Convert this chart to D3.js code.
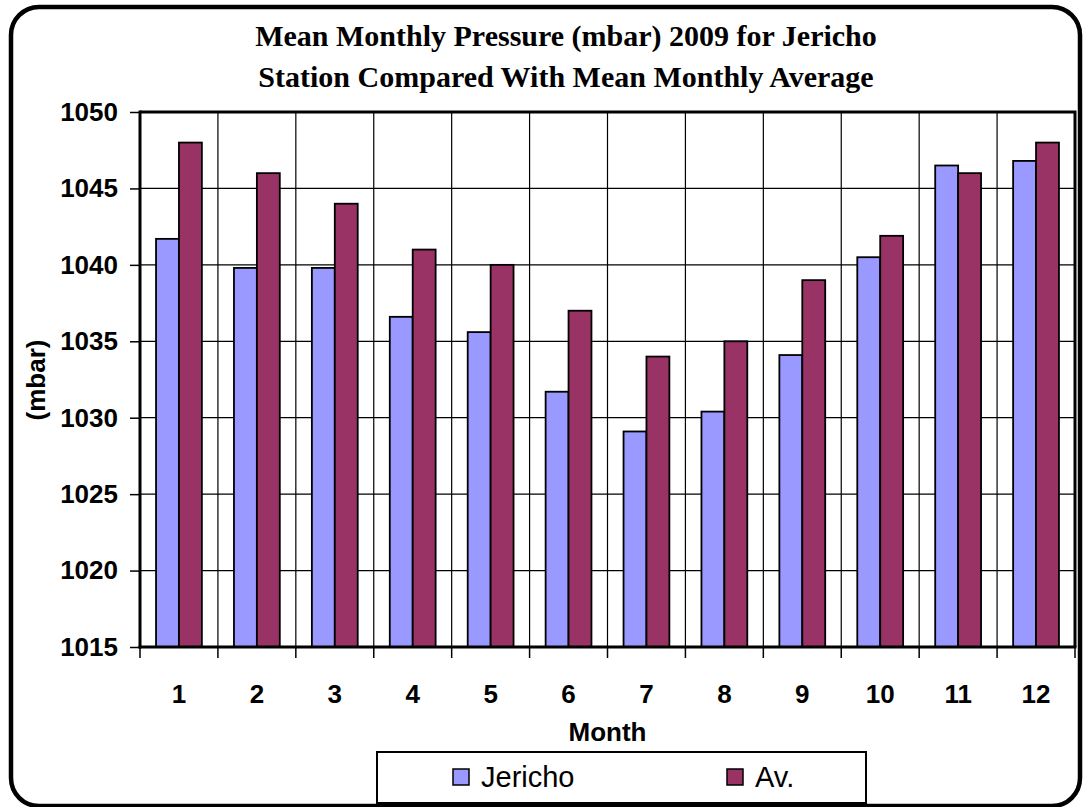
<!DOCTYPE html>
<html>
<head>
<meta charset="utf-8">
<script src="https://cdn.jsdelivr.net/npm/d3@7"></script>
<style>
  body { margin: 0; background: #fff; }
  svg { display: block; }
</style>
</head>
<body>
<div id="chart"></div>
<script>
// données
var months = ["1", "2", "3", "4", "5", "6", "7", "8", "9", "10", "11", "12"];
var seriesNames = ["Jericho", "Av."];
var jericho = [1041.7, 1039.8, 1039.8, 1036.6, 1035.6, 1031.7, 1029.1, 1030.4, 1034.1, 1040.5, 1046.5, 1046.8];
var average = [1048, 1046, 1044, 1041, 1040, 1037, 1034, 1035, 1039, 1041.9, 1046, 1048];
var yTicks = [1015, 1020, 1025, 1030, 1035, 1040, 1045, 1050];
var titleLines = ["Mean Monthly Pressure (mbar) 2009 for Jericho", "Station Compared With Mean Monthly Average"];

var colors = { "Jericho": "#9999ff", "Av.": "#993366" };

var width = 1083,
    height = 807;

var plot = { left: 140, right: 1075, top: 112, bottom: 647 };

var svg = d3.select("#chart")
    .append("svg")
    .attr("width", width)
    .attr("height", height);

// cadre arrondi
svg.append("rect")
    .attr("x", 11).attr("y", 7)
    .attr("width", 1069).attr("height", 799)
    .attr("rx", 28).attr("ry", 28)
    .attr("fill", "#fff")
    .attr("stroke", "#000")
    .attr("stroke-width", 4.5);

// titre
svg.append("g").selectAll("text")
    .data(titleLines)
    .join("text")
    .attr("x", 566)
    .attr("y", function (d, i) { return 46 + i * 41; })
    .attr("text-anchor", "middle")
    .style("font-family", "'Liberation Serif', 'Times New Roman', serif")
    .style("font-weight", "bold")
    .style("font-size", "30px")
    .style("letter-spacing", "0px")
    .text(function (d) { return d; });

// échelles
var x0 = d3.scaleBand()
    .domain(months)
    .range([plot.left, plot.right])
    .padding(0);

var x1 = d3.scaleBand()
    .domain(seriesNames)
    .range([0, x0.bandwidth()])
    .paddingInner(0)
    .paddingOuter(0.7);

var y = d3.scaleLinear()
    .domain([1015, 1050])
    .range([plot.bottom, plot.top]);

var g = svg.append("g");

// quadrillage horizontal
g.selectAll("line.hgrid")
    .data(yTicks.slice(1, -1))
    .join("line")
    .attr("class", "hgrid")
    .attr("x1", plot.left).attr("x2", plot.right)
    .attr("y1", function (d) { return y(d); })
    .attr("y2", function (d) { return y(d); })
    .attr("stroke", "#000")
    .attr("stroke-width", 1.2);

// quadrillage vertical
g.selectAll("line.vgrid")
    .data(months.slice(1))
    .join("line")
    .attr("class", "vgrid")
    .attr("x1", function (d) { return x0(d); })
    .attr("x2", function (d) { return x0(d); })
    .attr("y1", plot.top).attr("y2", plot.bottom)
    .attr("stroke", "#000")
    .attr("stroke-width", 1.2);

// barres
var rows = months.map(function (m, i) {
    return { month: m, values: [
        { name: "Jericho", value: jericho[i] },
        { name: "Av.", value: average[i] }
    ] };
});

g.selectAll("g.month")
    .data(rows)
    .join("g")
    .attr("class", "month")
    .attr("transform", function (d) { return "translate(" + x0(d.month) + ",0)"; })
    .selectAll("rect")
    .data(function (d) { return d.values; })
    .join("rect")
    .attr("x", function (d) { return x1(d.name); })
    .attr("width", x1.bandwidth())
    .attr("y", function (d) { return y(d.value); })
    .attr("height", function (d) { return y(1015) - y(d.value); })
    .attr("fill", function (d) { return colors[d.name]; })
    .attr("stroke", "#000")
    .attr("stroke-width", 1.8);

// bord du graphique (haut et droite)
g.append("path")
    .attr("d", "M" + plot.left + "," + plot.top + "H" + plot.right + "V" + plot.bottom)
    .attr("fill", "none")
    .attr("stroke", "#000")
    .attr("stroke-width", 3);

// axe Y
var yAxis = svg.append("g")
    .attr("transform", "translate(" + plot.left + ",0)")
    .call(d3.axisLeft(y).tickValues(yTicks).tickSize(10).tickPadding(12).tickFormat(d3.format("d")));
yAxis.select(".domain").remove();
yAxis.selectAll(".tick line").attr("stroke", "#000").attr("stroke-width", 1.5);
yAxis.selectAll(".tick text")
    .style("font-family", "'Liberation Sans', Arial, sans-serif")
    .style("font-weight", "bold")
    .style("font-size", "26px")
    .attr("fill", "#000");
svg.append("line")
    .attr("x1", plot.left).attr("x2", plot.left)
    .attr("y1", plot.top - 1.5).attr("y2", plot.bottom + 1.5)
    .attr("stroke", "#000").attr("stroke-width", 3);

// axe X
var xAxis = svg.append("g")
    .attr("transform", "translate(0," + plot.bottom + ")");
xAxis.selectAll("line")
    .data(months.concat(["end"]))
    .join("line")
    .attr("x1", function (d) { return d === "end" ? plot.right : x0(d); })
    .attr("x2", function (d) { return d === "end" ? plot.right : x0(d); })
    .attr("y1", 0).attr("y2", 11)
    .attr("stroke", "#000").attr("stroke-width", 1.5);
xAxis.selectAll("text")
    .data(months)
    .join("text")
    .attr("x", function (d) { return x0(d) + x0.bandwidth() / 2; })
    .attr("y", 56)
    .attr("text-anchor", "middle")
    .style("font-family", "'Liberation Sans', Arial, sans-serif")
    .style("font-weight", "bold")
    .style("font-size", "26px")
    .text(function (d) { return d; });
xAxis.append("line")
    .attr("x1", plot.left - 1.5).attr("x2", plot.right + 1.5)
    .attr("y1", 0).attr("y2", 0)
    .attr("stroke", "#000").attr("stroke-width", 3);

// titres des axes
svg.append("text")
    .attr("x", (plot.left + plot.right) / 2)
    .attr("y", 741)
    .attr("text-anchor", "middle")
    .style("font-family", "'Liberation Sans', Arial, sans-serif")
    .style("font-weight", "bold")
    .style("font-size", "26px")
    .text("Month");

svg.append("text")
    .attr("transform", "translate(45,380) rotate(-90)")
    .attr("text-anchor", "middle")
    .style("font-family", "'Liberation Sans', Arial, sans-serif")
    .style("font-weight", "bold")
    .style("font-size", "26px")
    .text("(mbar)");

// légende
var legend = svg.append("g");
legend.append("rect")
    .attr("x", 377).attr("y", 752)
    .attr("width", 489).attr("height", 51)
    .attr("fill", "#fff")
    .attr("stroke", "#000")
    .attr("stroke-width", 2);

var legendX = [453, 727];
var items = legend.selectAll("g.item")
    .data(seriesNames)
    .join("g")
    .attr("class", "item")
    .attr("transform", function (d, i) { return "translate(" + legendX[i] + ",769)"; });
items.append("rect")
    .attr("width", 16).attr("height", 16)
    .attr("fill", function (d) { return colors[d]; })
    .attr("stroke", "#000")
    .attr("stroke-width", 1.5);
items.append("text")
    .attr("x", 28)
    .attr("y", 18)
    .style("font-family", "'Liberation Sans', Arial, sans-serif")
    .style("font-size", "29px")
    .text(function (d) { return d; });
</script>
</body>
</html>
